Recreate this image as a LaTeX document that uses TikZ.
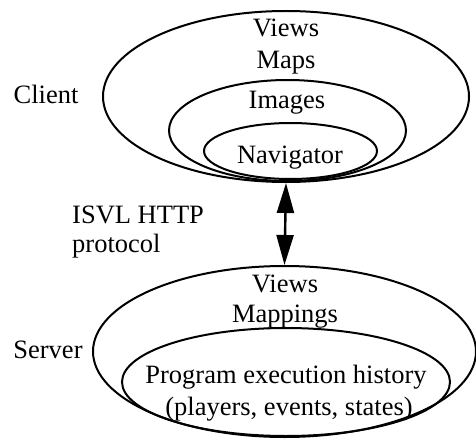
\documentclass[tikz,border=0pt]{standalone}
\usepackage{fontspec}
\setmainfont{Liberation Serif}
\usetikzlibrary{shapes.geometric,arrows.meta}
\begin{document}
\begin{tikzpicture}[x=1pt,y=-1pt,
  ell/.style={draw,ellipse,line width=2pt,inner sep=0pt},
  lbl/.style={anchor=base,inner sep=0pt,font=\fontsize{26.5}{31}\selectfont},
  conn/.style={line width=2.4pt,{Triangle[length=30pt,width=17pt]}-{Triangle[length=30pt,width=17pt]}}]
\useasboundingbox (0,0) rectangle (476,441);
% client
\node[ell,minimum width=366pt,minimum height=171pt] (cout) at (286,96.5) {};
\node[ell,minimum width=237pt,minimum height=101pt] (cmid) at (287.5,130.5) {};
\node[ell,minimum width=173pt,minimum height=56pt] (cin) at (290.5,151) {};
\node[lbl] (cviews) at (286,37) {Views};
\node[lbl] (cmaps) at (286,69) {Maps};
\node[lbl] (cimages) at (287,109) {Images};
\node[lbl] (cnav) at (290,163) {Navigator};
\node[lbl] (client) at (46,103) {Client};
% server
\node[ell,minimum width=383pt,minimum height=171pt] (sout) at (284.5,351.5) {};
\node[ell,minimum width=328pt,minimum height=108pt] (sin) at (286,382) {};
\node[lbl] (sviews) at (285,292) {Views};
\node[lbl] (smap) at (285,322) {Mappings};
\node[lbl] (server) at (48,358) {Server};
\node[lbl] (peh) at (286,383) {Program execution history};
\node[lbl] (pes) at (289,415) {(players, events, states)};
% protocol
\node[anchor=base west,inner sep=0pt,align=left,font=\fontsize{26.5}{29}\selectfont] (proto) at (72,252) {ISVL HTTP\\protocol};
\draw[conn] (cout.south) -- (sout.north);
\end{tikzpicture}
\end{document}
